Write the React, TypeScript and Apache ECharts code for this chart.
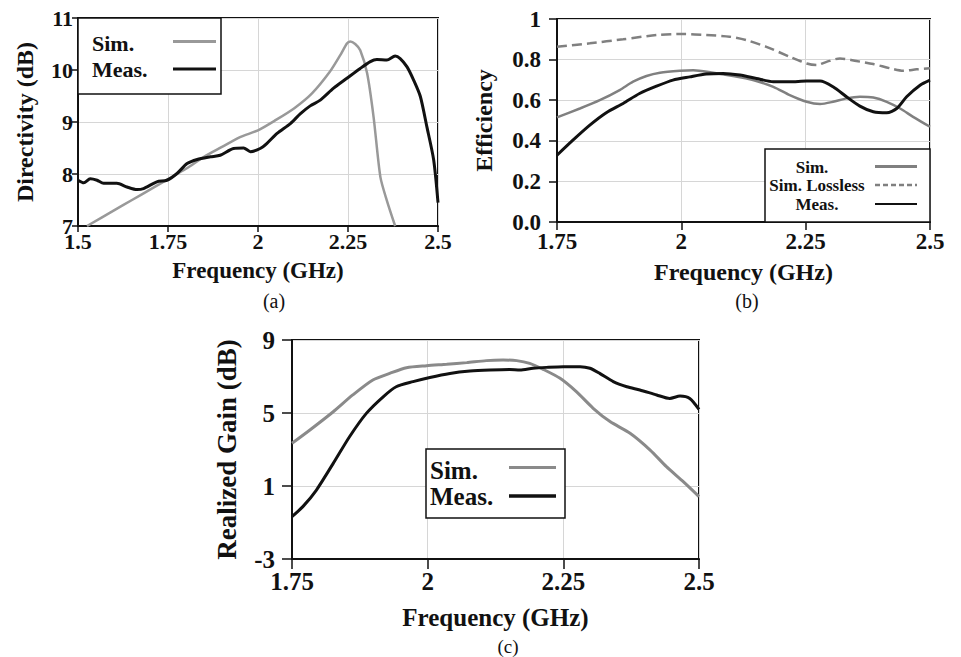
import React, { useEffect, useRef } from "react";
import * as echarts from "echarts";

// ---------- data (a) Directivity ----------
const aFreqSim = [1.525, 1.6, 1.65, 1.7, 1.75, 1.8, 1.85, 1.9, 1.95, 2.0, 2.05, 2.1, 2.15, 2.2, 2.229, 2.247, 2.256, 2.27, 2.284, 2.303, 2.321, 2.34, 2.358, 2.381];
const aDirSim = [7.0, 7.3, 7.5, 7.7, 7.9, 8.1, 8.33, 8.52, 8.71, 8.84, 9.04, 9.26, 9.55, 9.97, 10.29, 10.51, 10.55, 10.5, 10.38, 9.94, 9.1, 7.94, 7.49, 7.0];
const aFreqMeas = [1.5, 1.516, 1.534, 1.553, 1.571, 1.608, 1.636, 1.664, 1.682, 1.719, 1.747, 1.775, 1.803, 1.831, 1.868, 1.895, 1.932, 1.96, 1.979, 2.006, 2.025, 2.053, 2.09, 2.118, 2.145, 2.173, 2.21, 2.247, 2.284, 2.312, 2.33, 2.358, 2.381, 2.395, 2.414, 2.432, 2.451, 2.469, 2.488, 2.5];
const aDirMeas = [7.88, 7.83, 7.91, 7.88, 7.82, 7.82, 7.75, 7.7, 7.72, 7.85, 7.88, 8.01, 8.2, 8.28, 8.33, 8.36, 8.49, 8.5, 8.43, 8.49, 8.59, 8.78, 8.97, 9.16, 9.31, 9.42, 9.65, 9.84, 10.03, 10.16, 10.2, 10.19, 10.27, 10.22, 10.06, 9.81, 9.49, 8.91, 8.27, 7.45];

// ---------- data (b) Efficiency ----------
const bFreqSim = [1.75, 1.796, 1.836, 1.876, 1.903, 1.93, 1.957, 1.997, 2.024, 2.064, 2.104, 2.144, 2.185, 2.218, 2.252, 2.279, 2.305, 2.332, 2.359, 2.386, 2.413, 2.44, 2.466, 2.5];
const bEffSim = [0.515, 0.559, 0.6, 0.65, 0.691, 0.719, 0.735, 0.745, 0.748, 0.735, 0.719, 0.699, 0.666, 0.625, 0.592, 0.581, 0.592, 0.609, 0.617, 0.613, 0.592, 0.559, 0.518, 0.469];
const bFreqLossless = [1.75, 1.816, 1.883, 1.95, 2.004, 2.05, 2.097, 2.131, 2.171, 2.218, 2.252, 2.272, 2.292, 2.319, 2.352, 2.386, 2.42, 2.446, 2.473, 2.5];
const bEffLossless = [0.863, 0.88, 0.9, 0.921, 0.926, 0.921, 0.913, 0.896, 0.863, 0.814, 0.781, 0.773, 0.789, 0.806, 0.793, 0.778, 0.757, 0.745, 0.752, 0.757];
const bFreqMeas = [1.75, 1.782, 1.816, 1.849, 1.883, 1.916, 1.95, 1.983, 2.017, 2.05, 2.084, 2.118, 2.151, 2.185, 2.218, 2.252, 2.279, 2.305, 2.332, 2.359, 2.386, 2.413, 2.433, 2.453, 2.48, 2.5];
const bEffMeas = [0.329, 0.403, 0.477, 0.538, 0.584, 0.633, 0.669, 0.699, 0.715, 0.729, 0.732, 0.724, 0.707, 0.691, 0.691, 0.694, 0.694, 0.666, 0.617, 0.571, 0.543, 0.538, 0.559, 0.617, 0.674, 0.699];

// ---------- data (c) Realized gain ----------
const cFreqSim = [1.75, 1.783, 1.826, 1.862, 1.899, 1.93, 1.961, 1.998, 2.035, 2.072, 2.108, 2.139, 2.164, 2.188, 2.213, 2.244, 2.274, 2.305, 2.336, 2.373, 2.41, 2.44, 2.471, 2.5];
const cGainSim = [3.34, 4.07, 5.07, 5.99, 6.81, 7.17, 7.48, 7.59, 7.67, 7.76, 7.87, 7.9, 7.87, 7.72, 7.39, 6.9, 6.17, 5.26, 4.53, 3.89, 2.97, 2.06, 1.24, 0.42];
const cFreqMeas = [1.75, 1.77, 1.795, 1.826, 1.856, 1.887, 1.918, 1.942, 1.973, 2.004, 2.041, 2.078, 2.115, 2.151, 2.17, 2.194, 2.219, 2.25, 2.281, 2.299, 2.317, 2.342, 2.367, 2.391, 2.422, 2.446, 2.465, 2.483, 2.5];
const cGainMeas = [-0.68, -0.13, 0.78, 2.24, 3.7, 4.98, 5.89, 6.44, 6.72, 6.95, 7.17, 7.3, 7.36, 7.39, 7.36, 7.45, 7.5, 7.54, 7.54, 7.45, 7.17, 6.72, 6.44, 6.26, 5.99, 5.8, 5.93, 5.8, 5.2];

// tick labels
const effTickLabels = ["0.0", "0.2", "0.4", "0.6", "0.8", "1"];
const gainTickLabels = ["-3", "1", "5", "9"];

const FONT = "'Liberation Serif', 'Times New Roman', Times, serif";
const INK = "#111111";
const GRID_LINE = "#d6d6d6";
const SIM_A = "#999999";
const SIM_B = "#808080";
const SIM_C = "#8a8a8a";

const pairs = (xs: number[], ys: number[]) => xs.map((x, i) => [x, ys[i]]);

function xAxis(gridIndex: number, min: number, fontSize: number, margin: number, nameGap: number, tickLen: number, nameSize: number) {
  return {
    type: "value",
    gridIndex,
    min,
    max: 2.5,
    interval: 0.25,
    name: "Frequency (GHz)",
    nameLocation: "middle",
    nameGap,
    nameMoveOverlap: false,
    nameTextStyle: { fontFamily: FONT, fontWeight: "bold", fontSize: nameSize, color: INK },
    axisLine: { show: true, onZero: false, lineStyle: { color: INK, width: 2 } },
    axisTick: { show: true, inside: false, length: tickLen, lineStyle: { color: INK, width: 1.5 } },
    axisLabel: {
      show: true,
      margin,
      showMinLabel: true,
      showMaxLabel: true,
      hideOverlap: false,
      fontFamily: FONT,
      fontWeight: "bold",
      fontSize,
      color: INK,
    },
    splitLine: { show: true, lineStyle: { color: GRID_LINE, width: 1 } },
  };
}

function yAxisBase(gridIndex: number, fontSize: number, margin: number, tickLen: number) {
  return {
    type: "value",
    gridIndex,
    nameLocation: "middle",
    nameMoveOverlap: false,
    axisLine: { show: true, onZero: false, lineStyle: { color: INK, width: 2 } },
    axisTick: { show: true, inside: false, length: tickLen, lineStyle: { color: INK, width: 1.5 } },
    axisLabel: {
      show: true,
      margin,
      showMinLabel: true,
      showMaxLabel: true,
      hideOverlap: false,
      fontFamily: FONT,
      fontWeight: "bold",
      fontSize,
      color: INK,
    },
    splitLine: { show: true, lineStyle: { color: GRID_LINE, width: 1 } },
  };
}

const gridBox = (left: number, top: number, width: number, height: number) => ({
  show: true,
  left,
  top,
  width,
  height,
  containLabel: false,
  outerBoundsMode: "none",
  borderColor: INK,
  borderWidth: 2,
  backgroundColor: "transparent",
});

const Z = 100;

const txt = (text: string, x: number, y: number, size: number, align: string, bold = true) => ({
  type: "text",
  z: Z + 2,
  x,
  y,
  style: {
    text,
    fontFamily: FONT,
    fontWeight: bold ? "bold" : "normal",
    fontSize: size,
    fill: INK,
    align,
    verticalAlign: "middle",
  },
});

const seg = (x1: number, x2: number, y: number, color: string, width: number, dash?: number[]) => ({
  type: "line",
  z: Z + 2,
  shape: { x1, y1: y, x2, y2: y },
  style: { stroke: color, lineWidth: width, lineDash: dash },
});

const box = (x: number, y: number, width: number, height: number) => ({
  type: "rect",
  z: Z + 1,
  shape: { x, y, width, height },
  style: { fill: "#ffffff", stroke: INK, lineWidth: 1.5 },
});

export default function App() {
  const ref = useRef<HTMLDivElement | null>(null);

  useEffect(() => {
    if (!ref.current) return;
    const chart = echarts.init(ref.current, undefined, { renderer: "svg" });

    const yA = {
      ...yAxisBase(0, 22, 5, 6),
      min: 7,
      max: 11,
      interval: 1,
      name: "Directivity (dB)",
      nameGap: 41,
      nameTextStyle: { fontFamily: FONT, fontWeight: "bold", fontSize: 24, color: INK },
    };
    const yB = {
      ...yAxisBase(1, 23, 16, 8),
      min: 0,
      max: 1,
      interval: 0.2,
      name: "Efficiency",
      nameGap: 61,
      nameTextStyle: { fontFamily: FONT, fontWeight: "bold", fontSize: 24, color: INK },
    };
    (yB.axisLabel as any).formatter = (v: number) => effTickLabels[Math.round(v / 0.2)] ?? String(v);
    // display axis for (c): ticks every 4 starting at -3 (drawn on a shifted 0..12 scale)
    const yCDisplay = {
      ...yAxisBase(2, 25, 17, 10),
      min: 0,
      max: 12,
      interval: 4,
      name: "Realized Gain (dB)",
      nameGap: 52,
      nameTextStyle: { fontFamily: FONT, fontWeight: "bold", fontSize: 27, color: INK },
    };
    (yCDisplay.axisLabel as any).formatter = (v: number) => gainTickLabels[Math.round(v / 4)] ?? String(v - 3);
    const yCData = { type: "value", gridIndex: 2, min: -3, max: 9, show: false, splitLine: { show: false } };

    const lineSeries = (name: string, xi: number, yi: number, data: number[][], color: string, width: number, type: string = "solid") => ({
      type: "line",
      name,
      xAxisIndex: xi,
      yAxisIndex: yi,
      data,
      symbol: "none",
      smooth: 0.25,
      clip: true,
      lineStyle: { color, width, type },
      z: 3,
    });

    chart.setOption({
      animation: false,
      backgroundColor: "#ffffff",
      textStyle: { fontFamily: FONT },
      grid: [gridBox(78, 18, 360, 208), gridBox(557, 19, 373, 203), gridBox(292, 340, 407, 219)],
      xAxis: [
        xAxis(0, 1.5, 22, 4, 33, 6, 23),
        xAxis(1, 1.75, 23, 8, 38, 8, 24),
        xAxis(2, 1.75, 25, 10, 46, 10, 25),
      ],
      yAxis: [yA, yB, yCDisplay, yCData],
      series: [
        lineSeries("Sim.", 0, 0, pairs(aFreqSim, aDirSim), SIM_A, 2.5),
        lineSeries("Meas.", 0, 0, pairs(aFreqMeas, aDirMeas), INK, 3),
        lineSeries("Sim. Lossless", 1, 1, pairs(bFreqLossless, bEffLossless), SIM_B, 2.5, "dashed"),
        lineSeries("Sim.", 1, 1, pairs(bFreqSim, bEffSim), SIM_B, 2.5),
        lineSeries("Meas.", 1, 1, pairs(bFreqMeas, bEffMeas), INK, 3),
        lineSeries("Sim.", 2, 3, pairs(cFreqSim, cGainSim), SIM_C, 3),
        lineSeries("Meas.", 2, 3, pairs(cFreqMeas, cGainMeas), INK, 3),
      ],
      graphic: [
        // legend (a)
        box(78, 18, 143, 76),
        txt("Sim.", 92, 43, 22, "left"),
        txt("Meas.", 92, 69, 22, "left"),
        seg(173, 216, 41.5, SIM_A, 3),
        seg(173, 216, 69, INK, 3),
        // legend (b)
        box(765, 149, 165, 73),
        txt("Sim.", 812, 167, 17, "center"),
        txt("Sim. Lossless", 817, 185, 17, "center"),
        txt("Meas.", 817, 204, 17, "center"),
        seg(875, 917, 166.5, SIM_B, 3),
        seg(875, 917, 185, SIM_B, 2.5, [5, 3]),
        seg(875, 917, 204, INK, 2),
        // legend (c)
        box(426, 449, 139, 69),
        txt("Sim.", 430, 470, 25, "left"),
        txt("Meas.", 430, 496, 25, "left"),
        seg(509, 556, 467.5, SIM_C, 3),
        seg(509, 556, 496, INK, 3.5),
        // captions
        txt("(a)", 274, 301, 20, "center", false),
        txt("(b)", 747, 301, 20, "center", false),
        txt("(c)", 508, 646, 19, "center", false),
      ],
    } as any);

    return () => chart.dispose();
  }, []);

  return (
    <div
      ref={ref}
      style={{ position: "fixed", left: 0, top: 0, width: 961, height: 657, background: "#ffffff" }}
    />
  );
}
